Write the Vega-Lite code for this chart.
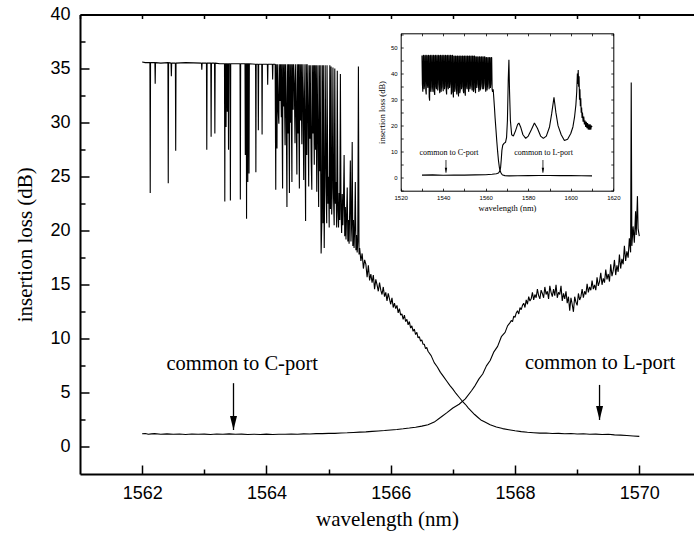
{
"$schema": "https://vega.github.io/schema/vega-lite/v6.json",
"width": 614, "height": 459.5,
"autosize": {"type": "none"},
"padding": {"left": 80, "top": 14.5, "right": 0, "bottom": 60},
"background": "white",
"config": {"view": {"stroke": null}, "axis": {"grid": false, "labelColor": "black", "tickColor": "black", "domainColor": "black", "titleColor": "black", "labelFont": "Liberation Sans", "titleFont": "Liberation Serif", "titleFontWeight": "normal", "minExtent": 0, "labelFlush": false, "labelOverlap": false, "format": "d"}},
"datasets": {
"main_c": [
{"wl":1562.00,"il":1.22},{"wl":1562.05,"il":1.25},{"wl":1562.10,"il":1.18},{"wl":1562.15,"il":1.21},{"wl":1562.20,"il":1.23},{"wl":1562.30,"il":1.18},{"wl":1562.40,"il":1.21},{"wl":1562.50,"il":1.17},{"wl":1562.60,"il":1.20},{"wl":1562.70,"il":1.16},{"wl":1562.80,"il":1.20},{"wl":1562.90,"il":1.17},{"wl":1563.00,"il":1.19},{"wl":1563.10,"il":1.16},{"wl":1563.20,"il":1.20},{"wl":1563.30,"il":1.17},{"wl":1563.40,"il":1.21},{"wl":1563.50,"il":1.17},{"wl":1563.60,"il":1.19},{"wl":1563.70,"il":1.15},{"wl":1563.80,"il":1.18},{"wl":1563.90,"il":1.16},{"wl":1564.00,"il":1.19},{"wl":1564.10,"il":1.16},{"wl":1564.20,"il":1.18},{"wl":1564.30,"il":1.17},{"wl":1564.40,"il":1.20},{"wl":1564.50,"il":1.18},{"wl":1564.60,"il":1.21},{"wl":1564.70,"il":1.20},{"wl":1564.80,"il":1.23},{"wl":1564.90,"il":1.23},{"wl":1565.00,"il":1.26},{"wl":1565.10,"il":1.26},{"wl":1565.20,"il":1.29},{"wl":1565.30,"il":1.31},{"wl":1565.40,"il":1.34},{"wl":1565.50,"il":1.37},{"wl":1565.60,"il":1.40},{"wl":1565.70,"il":1.44},{"wl":1565.80,"il":1.48},{"wl":1565.90,"il":1.52},{"wl":1566.00,"il":1.57},{"wl":1566.10,"il":1.62},{"wl":1566.20,"il":1.68},{"wl":1566.30,"il":1.75},{"wl":1566.40,"il":1.83},{"wl":1566.50,"il":1.93},{"wl":1566.60,"il":2.05},{"wl":1566.70,"il":2.3},{"wl":1566.80,"il":2.72},{"wl":1566.90,"il":3.15},{"wl":1567.00,"il":3.6},{"wl":1567.10,"il":3.95},{"wl":1567.20,"il":4.45},{"wl":1567.30,"il":5.2},{"wl":1567.36,"il":5.7},{"wl":1567.42,"il":6.3},{"wl":1567.48,"il":6.75},{"wl":1567.54,"il":7.5},{"wl":1567.60,"il":8.0},{"wl":1567.66,"il":8.8},{"wl":1567.72,"il":9.3},{"wl":1567.78,"il":10.2},{"wl":1567.84,"il":10.6},{"wl":1567.88,"il":11.2},
{"wl":1567.92,"il":11.5},{"wl":1567.94,"il":11.7},{"wl":1567.96,"il":11.6},{"wl":1567.98,"il":12.1},{"wl":1568.00,"il":12.0},{"wl":1568.02,"il":12.4},{"wl":1568.04,"il":12.6},{"wl":1568.06,"il":12.3},{"wl":1568.08,"il":12.9},{"wl":1568.10,"il":12.7},{"wl":1568.12,"il":13.1},{"wl":1568.14,"il":13.3},{"wl":1568.16,"il":12.9},{"wl":1568.18,"il":13.6},{"wl":1568.20,"il":13.2},{"wl":1568.22,"il":13.9},{"wl":1568.24,"il":13.5},{"wl":1568.26,"il":13.7},{"wl":1568.28,"il":14.3},{"wl":1568.30,"il":13.6},{"wl":1568.32,"il":14.1},{"wl":1568.34,"il":13.8},{"wl":1568.36,"il":14.6},{"wl":1568.38,"il":14.0},{"wl":1568.40,"il":13.7},{"wl":1568.42,"il":14.5},{"wl":1568.44,"il":14.2},{"wl":1568.46,"il":13.8},{"wl":1568.48,"il":14.8},{"wl":1568.50,"il":14.1},{"wl":1568.52,"il":14.4},{"wl":1568.54,"il":13.7},{"wl":1568.56,"il":14.9},{"wl":1568.58,"il":14.3},{"wl":1568.60,"il":13.9},{"wl":1568.62,"il":14.6},{"wl":1568.64,"il":14.0},{"wl":1568.66,"il":15.0},{"wl":1568.68,"il":13.8},{"wl":1568.70,"il":14.3},{"wl":1568.72,"il":14.1},{"wl":1568.74,"il":14.9},{"wl":1568.76,"il":13.5},{"wl":1568.78,"il":14.2},{"wl":1568.80,"il":13.7},{"wl":1568.82,"il":14.4},{"wl":1568.84,"il":13.3},{"wl":1568.86,"il":13.9},{"wl":1568.88,"il":12.6},{"wl":1568.90,"il":13.8},{"wl":1568.92,"il":13.2},{"wl":1568.94,"il":12.5},{"wl":1568.96,"il":13.9},{"wl":1568.98,"il":13.4},{"wl":1569.00,"il":13.1},{"wl":1569.02,"il":14.2},{"wl":1569.04,"il":13.6},{"wl":1569.06,"il":13.9},{"wl":1569.08,"il":14.6},{"wl":1569.10,"il":13.8},{"wl":1569.12,"il":14.4},{"wl":1569.14,"il":14.1},{"wl":1569.16,"il":15.1},{"wl":1569.18,"il":14.3},{"wl":1569.20,"il":14.8},{"wl":1569.22,"il":14.5},{"wl":1569.24,"il":15.4},{"wl":1569.26,"il":14.6},{"wl":1569.28,"il":15.0},{"wl":1569.30,"il":14.5},{"wl":1569.32,"il":15.7},{"wl":1569.34,"il":14.9},{"wl":1569.36,"il":15.3},{"wl":1569.38,"il":16.1},{"wl":1569.40,"il":15.0},{"wl":1569.42,"il":15.6},{"wl":1569.44,"il":15.2},{"wl":1569.46,"il":16.4},{"wl":1569.48,"il":15.5},{"wl":1569.50,"il":16.0},{"wl":1569.52,"il":15.3},{"wl":1569.54,"il":16.9},{"wl":1569.56,"il":15.8},{"wl":1569.58,"il":16.3},{"wl":1569.60,"il":17.3},{"wl":1569.62,"il":15.9},{"wl":1569.64,"il":16.8},{"wl":1569.66,"il":16.2},{"wl":1569.68,"il":17.8},{"wl":1569.70,"il":16.5},{"wl":1569.72,"il":17.4},{"wl":1569.74,"il":16.9},{"wl":1569.76,"il":18.6},{"wl":1569.78,"il":17.2},{"wl":1569.80,"il":18.1},{"wl":1569.82,"il":17.5},{"wl":1569.84,"il":19.3},{"wl":1569.86,"il":18.0},{"wl":1569.87,"il":33.7},{"wl":1569.88,"il":18.6},{"wl":1569.90,"il":20.4},{"wl":1569.92,"il":18.9},{"wl":1569.94,"il":21.8},{"wl":1569.95,"il":19.6},{"wl":1569.97,"il":23.2},{"wl":1569.98,"il":20.2},{"wl":1570.00,"il":19.5}
],
"main_l": [
{"wl":1562.000,"il":35.6},{"wl":1562.050,"il":35.55},{"wl":1562.125,"il":35.55},{"wl":1562.130,"il":23.5},{"wl":1562.135,"il":35.55},{"wl":1562.205,"il":35.55},{"wl":1562.210,"il":33.6},{"wl":1562.215,"il":35.55},{"wl":1562.300,"il":35.5},{"wl":1562.415,"il":35.55},{"wl":1562.420,"il":24.4},{"wl":1562.425,"il":35.55},{"wl":1562.465,"il":35.5},{"wl":1562.470,"il":34.3},{"wl":1562.475,"il":35.5},{"wl":1562.535,"il":35.5},{"wl":1562.540,"il":27.4},{"wl":1562.545,"il":35.5},{"wl":1562.700,"il":35.55},{"wl":1562.955,"il":35.5},{"wl":1562.960,"il":34.9},{"wl":1562.965,"il":35.5},{"wl":1563.035,"il":35.5},{"wl":1563.040,"il":27.5},{"wl":1563.045,"il":35.5},{"wl":1563.105,"il":35.5},{"wl":1563.110,"il":28.7},{"wl":1563.115,"il":35.5},{"wl":1563.165,"il":35.5},{"wl":1563.170,"il":29.0},{"wl":1563.175,"il":35.5},{"wl":1563.250,"il":35.45},{"wl":1563.325,"il":35.45},{"wl":1563.330,"il":22.7},{"wl":1563.335,"il":35.45},{"wl":1563.345,"il":35.45},{"wl":1563.350,"il":29.6},{"wl":1563.355,"il":35.45},{"wl":1563.365,"il":35.45},{"wl":1563.370,"il":31.0},{"wl":1563.375,"il":35.45},{"wl":1563.385,"il":35.45},{"wl":1563.390,"il":27.5},{"wl":1563.395,"il":35.45},{"wl":1563.415,"il":35.45},{"wl":1563.420,"il":22.8},{"wl":1563.425,"il":35.45},{"wl":1563.500,"il":35.45},{"wl":1563.575,"il":35.45},{"wl":1563.580,"il":22.9},{"wl":1563.585,"il":35.45},{"wl":1563.655,"il":35.45},{"wl":1563.660,"il":27.0},{"wl":1563.665,"il":35.45},{"wl":1563.675,"il":35.45},{"wl":1563.680,"il":21.1},{"wl":1563.685,"il":35.45},{"wl":1563.695,"il":35.45},{"wl":1563.700,"il":24.5},{"wl":1563.705,"il":35.45},{"wl":1563.715,"il":35.45},{"wl":1563.720,"il":25.3},{"wl":1563.725,"il":35.45},{"wl":1563.825,"il":35.4},{"wl":1563.830,"il":25.4},{"wl":1563.835,"il":35.4},{"wl":1563.865,"il":35.4},{"wl":1563.870,"il":29.3},{"wl":1563.875,"il":35.4},{"wl":1563.925,"il":35.4},{"wl":1563.930,"il":28.9},{"wl":1563.935,"il":35.4},{"wl":1564.015,"il":35.4},{"wl":1564.020,"il":33.5},{"wl":1564.025,"il":35.4},{"wl":1564.095,"il":35.4},{"wl":1564.100,"il":34.0},{"wl":1564.105,"il":35.4},
{"wl":1564.14,"il":35.4},{"wl":1564.15,"il":23.8},{"wl":1564.155,"il":35.4},{"wl":1564.17,"il":27.6},{"wl":1564.175,"il":35.4},{"wl":1564.19,"il":31.0},{"wl":1564.20,"il":29.9},{"wl":1564.205,"il":35.4},{"wl":1564.22,"il":32.0},{"wl":1564.225,"il":35.4},{"wl":1564.24,"il":30.5},{"wl":1564.245,"il":35.4},{"wl":1564.26,"il":23.9},{"wl":1564.265,"il":35.4},{"wl":1564.28,"il":31.5},{"wl":1564.285,"il":35.4},{"wl":1564.30,"il":27.9},{"wl":1564.305,"il":35.4},{"wl":1564.32,"il":30.4},{"wl":1564.33,"il":22.2},{"wl":1564.335,"il":35.4},{"wl":1564.35,"il":29.0},{"wl":1564.355,"il":35.4},{"wl":1564.37,"il":23.5},{"wl":1564.375,"il":35.4},{"wl":1564.39,"il":30.0},{"wl":1564.395,"il":35.4},{"wl":1564.41,"il":24.5},{"wl":1564.415,"il":35.4},{"wl":1564.43,"il":31.2},{"wl":1564.435,"il":35.4},{"wl":1564.45,"il":33.0},{"wl":1564.46,"il":28.1},{"wl":1564.465,"il":35.4},{"wl":1564.48,"il":30.5},{"wl":1564.49,"il":25.2},{"wl":1564.495,"il":35.4},{"wl":1564.51,"il":29.0},{"wl":1564.515,"il":35.4},{"wl":1564.53,"il":23.9},{"wl":1564.535,"il":35.4},{"wl":1564.55,"il":30.2},{"wl":1564.555,"il":35.4},{"wl":1564.57,"il":28.0},{"wl":1564.575,"il":35.4},{"wl":1564.59,"il":31.0},{"wl":1564.60,"il":24.7},{"wl":1564.605,"il":35.4},{"wl":1564.62,"il":29.5},{"wl":1564.63,"il":20.9},{"wl":1564.635,"il":35.4},{"wl":1564.65,"il":27.0},{"wl":1564.655,"il":35.4},{"wl":1564.67,"il":30.0},{"wl":1564.68,"il":24.1},{"wl":1564.685,"il":35.3},{"wl":1564.70,"il":28.5},{"wl":1564.705,"il":35.3},{"wl":1564.72,"il":26.5},{"wl":1564.73,"il":23.8},{"wl":1564.735,"il":35.3},{"wl":1564.75,"il":29.0},{"wl":1564.755,"il":35.3},{"wl":1564.77,"il":26.1},{"wl":1564.775,"il":35.3},{"wl":1564.79,"il":27.5},{"wl":1564.795,"il":35.3},{"wl":1564.81,"il":23.6},{"wl":1564.815,"il":35.3},{"wl":1564.83,"il":28.0},{"wl":1564.84,"il":22.2},{"wl":1564.845,"il":35.3},{"wl":1564.86,"il":25.5},{"wl":1564.865,"il":35.3},{"wl":1564.88,"il":17.9},{"wl":1564.89,"il":20.5},{"wl":1564.895,"il":35.3},{"wl":1564.91,"il":20.7},{"wl":1564.915,"il":35.3},{"wl":1564.93,"il":18.4},{"wl":1564.94,"il":26.1},{"wl":1564.945,"il":35.3},{"wl":1564.96,"il":24.0},{"wl":1564.97,"il":20.7},{"wl":1564.975,"il":35.3},{"wl":1564.99,"il":22.5},{"wl":1565.00,"il":25.0},{"wl":1565.01,"il":20.3},{"wl":1565.02,"il":35.3},
{"wl":1565.03,"il":22.0},{"wl":1565.04,"il":35.2},{"wl":1565.05,"il":21.5},{"wl":1565.06,"il":24.0},{"wl":1565.07,"il":35.1},{"wl":1565.08,"il":23.0},{"wl":1565.09,"il":20.5},{"wl":1565.10,"il":35.0},{"wl":1565.11,"il":22.5},{"wl":1565.12,"il":24.5},{"wl":1565.13,"il":20.3},{"wl":1565.14,"il":34.8},{"wl":1565.15,"il":21.8},{"wl":1565.16,"il":20.3},{"wl":1565.17,"il":23.5},{"wl":1565.18,"il":21.0},{"wl":1565.19,"il":34.5},{"wl":1565.20,"il":22.0},{"wl":1565.21,"il":19.8},{"wl":1565.22,"il":23.4},{"wl":1565.23,"il":20.5},{"wl":1565.24,"il":22.8},{"wl":1565.25,"il":27.0},{"wl":1565.26,"il":19.5},{"wl":1565.27,"il":22.2},{"wl":1565.28,"il":19.2},{"wl":1565.29,"il":21.5},{"wl":1565.30,"il":24.0},{"wl":1565.31,"il":19.0},{"wl":1565.32,"il":21.0},{"wl":1565.33,"il":18.8},{"wl":1565.34,"il":22.0},{"wl":1565.35,"il":26.5},{"wl":1565.36,"il":19.0},{"wl":1565.37,"il":20.5},{"wl":1565.38,"il":28.2},{"wl":1565.39,"il":18.6},{"wl":1565.40,"il":21.0},{"wl":1565.41,"il":18.4},{"wl":1565.42,"il":20.2},{"wl":1565.43,"il":24.5},{"wl":1565.44,"il":18.2},{"wl":1565.45,"il":19.6},{"wl":1565.46,"il":18.0},{"wl":1565.47,"il":19.0},{"wl":1565.48,"il":35.2},{"wl":1565.49,"il":17.8},{"wl":1565.50,"il":18.4},
{"wl":1565.52,"il":17.2},{"wl":1565.54,"il":17.9},{"wl":1565.56,"il":16.5},{"wl":1565.58,"il":17.3},{"wl":1565.60,"il":16.9},{"wl":1565.62,"il":15.7},{"wl":1565.64,"il":16.8},{"wl":1565.66,"il":15.4},{"wl":1565.68,"il":16.0},{"wl":1565.70,"il":15.2},{"wl":1565.72,"il":15.9},{"wl":1565.74,"il":14.6},{"wl":1565.76,"il":15.5},{"wl":1565.78,"il":15.0},{"wl":1565.80,"il":14.4},{"wl":1565.82,"il":15.2},{"wl":1565.84,"il":14.5},{"wl":1565.86,"il":14.1},{"wl":1565.88,"il":14.8},{"wl":1565.90,"il":13.9},{"wl":1565.92,"il":14.3},{"wl":1565.94,"il":13.5},{"wl":1565.96,"il":14.2},{"wl":1565.98,"il":13.7},{"wl":1566.00,"il":13.2},{"wl":1566.02,"il":13.8},{"wl":1566.04,"il":12.9},{"wl":1566.06,"il":13.3},{"wl":1566.08,"il":12.8},{"wl":1566.10,"il":13.1},{"wl":1566.12,"il":12.4},{"wl":1566.14,"il":12.8},{"wl":1566.16,"il":12.2},{"wl":1566.18,"il":12.3},{"wl":1566.20,"il":11.8},{"wl":1566.22,"il":12.2},{"wl":1566.24,"il":11.6},{"wl":1566.26,"il":11.8},{"wl":1566.28,"il":11.3},{"wl":1566.30,"il":11.6},{"wl":1566.32,"il":11.0},{"wl":1566.34,"il":11.2},{"wl":1566.36,"il":10.7},{"wl":1566.38,"il":10.9},{"wl":1566.40,"il":10.4},{"wl":1566.42,"il":10.6},{"wl":1566.44,"il":10.1},{"wl":1566.46,"il":10.2},{"wl":1566.48,"il":9.8},{"wl":1566.50,"il":9.9},{"wl":1566.52,"il":9.5},{"wl":1566.54,"il":9.5},{"wl":1566.56,"il":9.1},{"wl":1566.58,"il":9.2},{"wl":1566.60,"il":8.85},{"wl":1566.65,"il":8.45},{"wl":1566.70,"il":7.8},{"wl":1566.75,"il":7.4},{"wl":1566.80,"il":6.9},{"wl":1566.85,"il":6.5},{"wl":1566.90,"il":6.1},{"wl":1566.95,"il":5.7},{"wl":1567.00,"il":5.35},{"wl":1567.05,"il":4.95},{"wl":1567.10,"il":4.6},{"wl":1567.15,"il":4.25},{"wl":1567.20,"il":3.95},{"wl":1567.25,"il":3.6},{"wl":1567.30,"il":3.3},{"wl":1567.35,"il":3.0},{"wl":1567.40,"il":2.75},{"wl":1567.45,"il":2.5},{"wl":1567.50,"il":2.35},{"wl":1567.60,"il":2.05},{"wl":1567.70,"il":1.85},{"wl":1567.80,"il":1.7},{"wl":1567.90,"il":1.6},{"wl":1568.00,"il":1.5},{"wl":1568.10,"il":1.42},{"wl":1568.20,"il":1.36},{"wl":1568.30,"il":1.32},{"wl":1568.40,"il":1.28},{"wl":1568.50,"il":1.29},{"wl":1568.60,"il":1.25},{"wl":1568.70,"il":1.26},{"wl":1568.80,"il":1.22},{"wl":1568.90,"il":1.24},{"wl":1569.00,"il":1.2},{"wl":1569.10,"il":1.22},{"wl":1569.20,"il":1.18},{"wl":1569.30,"il":1.19},{"wl":1569.40,"il":1.15},{"wl":1569.50,"il":1.17},{"wl":1569.60,"il":1.12},{"wl":1569.70,"il":1.1},{"wl":1569.80,"il":1.06},{"wl":1569.90,"il":1.02},{"wl":1570.00,"il":0.98}
],
"main_text": [
{"wl":1563.61,"il":7.1,"label":"common to C-port"},
{"wl":1569.37,"il":7.2,"label":"common to L-port"}
],
"main_arrows": [
{"wl":1563.47,"top":5.9,"tip":1.57},
{"wl":1569.36,"top":5.74,"tip":2.5}
],
"inset_c": [
{"wl":1530,"il":1.0},{"wl":1535,"il":1.1},{"wl":1540,"il":0.95},{"wl":1545,"il":1.05},{"wl":1550,"il":1.0},{"wl":1555,"il":1.1},{"wl":1560,"il":1.15},{"wl":1563,"il":1.3},{"wl":1565,"il":1.5},{"wl":1566,"il":1.8},{"wl":1566.6,"il":2.5},{"wl":1567.0,"il":4.0},{"wl":1567.3,"il":7.0},{"wl":1567.6,"il":10.5},{"wl":1568.0,"il":12.5},{"wl":1568.6,"il":13.2},{"wl":1569.3,"il":13.6},{"wl":1569.8,"il":15.5},{"wl":1570.2,"il":22},{"wl":1570.6,"il":38},{"wl":1570.9,"il":45.3},{"wl":1571.2,"il":33},{"wl":1571.6,"il":22},{"wl":1572.2,"il":16.5},{"wl":1573.0,"il":16.0},{"wl":1574.0,"il":18.0},{"wl":1575.0,"il":20.5},{"wl":1575.6,"il":21.0},{"wl":1576.4,"il":19.5},{"wl":1577.5,"il":16.5},{"wl":1578.8,"il":15.1},{"wl":1580.0,"il":16.0},{"wl":1581.5,"il":18.5},{"wl":1582.9,"il":21.0},{"wl":1584.3,"il":19.0},{"wl":1585.8,"il":16.0},{"wl":1587.1,"il":15.1},{"wl":1588.5,"il":16.0},{"wl":1590.0,"il":19.5},{"wl":1591.0,"il":24.5},{"wl":1592.1,"il":30.9},{"wl":1593.0,"il":25.0},{"wl":1594.0,"il":20.0},{"wl":1595.5,"il":16.5},{"wl":1597.0,"il":14.3},{"wl":1598.5,"il":14.8},{"wl":1600.0,"il":17.0},{"wl":1601.0,"il":19.5},{"wl":1601.8,"il":23.5},{"wl":1602.4,"il":28.0},{"wl":1602.8,"il":33.0},{"wl":1603.1,"il":40.0},{"wl":1603.3,"il":36.0},{"wl":1603.5,"il":41.4},{"wl":1603.7,"il":35.0},{"wl":1603.9,"il":39.0},{"wl":1604.1,"il":30.0},{"wl":1604.3,"il":34.0},{"wl":1604.5,"il":27.5},{"wl":1604.7,"il":30.5},{"wl":1604.9,"il":25.0},{"wl":1605.1,"il":27.0},{"wl":1605.3,"il":23.0},{"wl":1605.5,"il":25.0},{"wl":1605.8,"il":21.5},{"wl":1606.1,"il":23.5},{"wl":1606.4,"il":20.5},{"wl":1606.7,"il":22.0},{"wl":1607.0,"il":19.5},{"wl":1607.3,"il":21.5},{"wl":1607.6,"il":19.0},{"wl":1607.9,"il":21.0},{"wl":1608.2,"il":18.5},{"wl":1608.5,"il":20.5},{"wl":1608.8,"il":18.5},{"wl":1609.1,"il":20.5},{"wl":1609.4,"il":18.5},{"wl":1609.7,"il":20.0},{"wl":1610.0,"il":19.5}
],
"inset_l": [
{"wl":1530.0,"il":47.0},{"wl":1530.2,"il":36.0},{"wl":1530.4,"il":33.0},{"wl":1530.6,"il":47.0},{"wl":1530.8,"il":47.0},{"wl":1531.0,"il":34.0},{"wl":1531.2,"il":35.5},{"wl":1531.4,"il":47.0},{"wl":1531.6,"il":47.0},{"wl":1531.8,"il":33.5},{"wl":1532.0,"il":32.0},{"wl":1532.2,"il":47.0},{"wl":1532.4,"il":47.0},{"wl":1532.6,"il":35.5},{"wl":1532.8,"il":34.5},{"wl":1533.0,"il":47.0},{"wl":1533.2,"il":47.0},{"wl":1533.4,"il":31.0},{"wl":1533.6,"il":29.6},{"wl":1533.8,"il":47.0},{"wl":1534.0,"il":47.0},{"wl":1534.2,"il":33.0},{"wl":1534.4,"il":35.0},{"wl":1534.6,"il":47.0},{"wl":1534.8,"il":47.0},{"wl":1535.0,"il":34.5},{"wl":1535.2,"il":33.0},{"wl":1535.4,"il":47.0},{"wl":1535.6,"il":47.0},{"wl":1535.8,"il":33.0},{"wl":1536.0,"il":31.8},{"wl":1536.2,"il":47.0},{"wl":1536.4,"il":47.0},{"wl":1536.6,"il":35.0},{"wl":1536.8,"il":34.0},{"wl":1537.0,"il":47.0},{"wl":1537.2,"il":47.0},{"wl":1537.4,"il":33.5},{"wl":1537.6,"il":36.0},{"wl":1537.8,"il":47.0},{"wl":1538.0,"il":47.0},{"wl":1538.2,"il":34.0},{"wl":1538.4,"il":32.5},{"wl":1538.6,"il":47.0},{"wl":1538.8,"il":47.0},{"wl":1539.0,"il":33.0},{"wl":1539.2,"il":34.8},{"wl":1539.4,"il":47.0},{"wl":1539.6,"il":47.0},{"wl":1539.8,"il":35.0},{"wl":1540.0,"il":33.2},{"wl":1540.2,"il":47.0},{"wl":1540.4,"il":47.0},{"wl":1540.6,"il":34.0},{"wl":1540.8,"il":35.5},{"wl":1541.0,"il":47.0},{"wl":1541.2,"il":47.0},{"wl":1541.4,"il":33.5},{"wl":1541.6,"il":32.0},{"wl":1541.8,"il":47.0},{"wl":1542.0,"il":47.0},{"wl":1542.2,"il":35.0},{"wl":1542.4,"il":34.0},{"wl":1542.6,"il":47.0},{"wl":1542.8,"il":47.0},{"wl":1543.0,"il":34.5},{"wl":1543.2,"il":36.2},{"wl":1543.4,"il":47.0},{"wl":1543.6,"il":47.0},{"wl":1543.8,"il":32.0},{"wl":1544.0,"il":33.0},{"wl":1544.2,"il":47.0},{"wl":1544.4,"il":47.0},{"wl":1544.6,"il":33.0},{"wl":1544.8,"il":30.8},{"wl":1545.0,"il":46.8},{"wl":1545.2,"il":46.8},{"wl":1545.4,"il":33.0},{"wl":1545.6,"il":34.5},{"wl":1545.8,"il":46.8},{"wl":1546.0,"il":46.8},{"wl":1546.2,"il":34.0},{"wl":1546.4,"il":32.0},{"wl":1546.6,"il":46.8},{"wl":1546.8,"il":46.8},{"wl":1547.0,"il":33.5},{"wl":1547.2,"il":31.2},{"wl":1547.4,"il":46.8},{"wl":1547.6,"il":46.8},{"wl":1547.8,"il":32.5},{"wl":1548.0,"il":33.5},{"wl":1548.2,"il":46.8},{"wl":1548.4,"il":46.8},{"wl":1548.6,"il":34.0},{"wl":1548.8,"il":35.0},{"wl":1549.0,"il":46.8},{"wl":1549.2,"il":46.8},{"wl":1549.4,"il":33.5},{"wl":1549.6,"il":32.5},{"wl":1549.8,"il":46.8},{"wl":1550.0,"il":46.8},{"wl":1550.2,"il":33.0},{"wl":1550.4,"il":31.5},{"wl":1550.6,"il":46.8},{"wl":1550.8,"il":46.8},{"wl":1551.0,"il":35.0},{"wl":1551.2,"il":34.0},{"wl":1551.4,"il":46.8},{"wl":1551.6,"il":46.8},{"wl":1551.8,"il":34.5},{"wl":1552.0,"il":33.0},{"wl":1552.2,"il":46.8},{"wl":1552.4,"il":46.8},{"wl":1552.6,"il":34.0},{"wl":1552.8,"il":35.5},{"wl":1553.0,"il":46.8},{"wl":1553.2,"il":46.8},{"wl":1553.4,"il":35.0},{"wl":1553.6,"il":33.5},{"wl":1553.8,"il":46.8},{"wl":1554.0,"il":46.8},{"wl":1554.2,"il":33.0},{"wl":1554.4,"il":34.5},{"wl":1554.6,"il":46.8},{"wl":1554.8,"il":46.8},{"wl":1555.0,"il":34.0},{"wl":1555.2,"il":32.5},{"wl":1555.4,"il":46.5},{"wl":1555.6,"il":46.5},{"wl":1555.8,"il":34.5},{"wl":1556.0,"il":36.0},{"wl":1556.2,"il":46.5},{"wl":1556.4,"il":46.5},{"wl":1556.6,"il":35.0},{"wl":1556.8,"il":33.0},{"wl":1557.0,"il":46.5},{"wl":1557.2,"il":46.5},{"wl":1557.4,"il":33.5},{"wl":1557.6,"il":35.0},{"wl":1557.8,"il":46.5},{"wl":1558.0,"il":46.5},{"wl":1558.2,"il":36.0},{"wl":1558.4,"il":34.0},{"wl":1558.6,"il":46.5},{"wl":1558.8,"il":46.5},{"wl":1559.0,"il":34.0},{"wl":1559.2,"il":36.5},{"wl":1559.4,"il":46.5},{"wl":1559.6,"il":46.5},{"wl":1559.8,"il":35.5},{"wl":1560.0,"il":33.0},{"wl":1560.2,"il":46.2},{"wl":1560.4,"il":46.2},{"wl":1560.6,"il":33.5},{"wl":1560.8,"il":35.0},{"wl":1561.0,"il":46.2},{"wl":1561.2,"il":46.2},{"wl":1561.4,"il":36.0},{"wl":1561.6,"il":34.0},{"wl":1561.8,"il":46.2},{"wl":1562.0,"il":46.2},{"wl":1562.2,"il":34.5},{"wl":1562.4,"il":36.0},{"wl":1562.6,"il":46.2},{"wl":1562.8,"il":46.2},{"wl":1563.0,"il":34.0},{"wl":1563.2,"il":33.0},
{"wl":1563.5,"il":34.0},{"wl":1563.8,"il":30.5},{"wl":1564.1,"il":27.0},{"wl":1564.4,"il":23.0},{"wl":1564.8,"il":18.5},{"wl":1565.2,"il":14.0},{"wl":1565.6,"il":10.0},{"wl":1566.0,"il":6.5},{"wl":1566.4,"il":4.0},{"wl":1566.8,"il":2.6},{"wl":1567.2,"il":1.8},{"wl":1567.6,"il":1.3},{"wl":1568.0,"il":1.0},{"wl":1569,"il":0.8},{"wl":1571,"il":0.7},{"wl":1575,"il":0.75},{"wl":1580,"il":0.8},{"wl":1585,"il":0.85},{"wl":1590,"il":0.85},{"wl":1595,"il":0.8},{"wl":1600,"il":0.8},{"wl":1605,"il":0.75},{"wl":1610,"il":0.7}
],
"inset_text": [
{"wl":1542.7,"il":8.7,"label":"common to C-port"},
{"wl":1587.2,"il":8.7,"label":"common to L-port"}
],
"inset_arrows": [
{"wl":1541.3,"top":6.8,"tip":1.9},
{"wl":1586.9,"top":6.8,"tip":1.9}
]
},
"layer": [
{
"data": {"name": "main_c"},
"mark": {"type": "line", "color": "black", "strokeWidth": 1.1, "strokeJoin": "bevel"},
"encoding": {
"x": {"field": "wl", "type": "quantitative", "scale": {"domain": [1561, 1570.88], "nice": false, "zero": false},
"axis": {"orient": "bottom", "values": [1562, 1564, 1566, 1568, 1570], "tickSize": -9, "tickWidth": 1.5, "domainWidth": 2, "labelPadding": 19, "labelFontSize": 18, "title": "wavelength (nm)", "titleFontSize": 21, "titlePadding": 6}},
"y": {"field": "il", "type": "quantitative", "scale": {"domain": [-2.5, 40], "nice": false, "zero": false},
"axis": {"orient": "left", "values": [0, 5, 10, 15, 20, 25, 30, 35, 40], "tickSize": -9, "tickWidth": 1.5, "domainWidth": 2, "labelPadding": 19, "labelFontSize": 18, "title": "insertion loss (dB)", "titleFontSize": 21, "titlePadding": 14}}
}
},
{
"data": {"name": "main_l"},
"mark": {"type": "line", "color": "black", "strokeWidth": 1.1, "strokeJoin": "bevel"},
"encoding": {
"x": {"field": "wl", "type": "quantitative", "scale": {"domain": [1561, 1570.88], "nice": false, "zero": false},
"axis": {"orient": "bottom", "values": [1563, 1565, 1567, 1569], "tickSize": -5, "tickWidth": 1.5, "domain": false, "labels": false, "title": null}},
"y": {"field": "il", "type": "quantitative", "scale": {"domain": [-2.5, 40], "nice": false, "zero": false},
"axis": {"orient": "left", "values": [2.5, 7.5, 12.5, 17.5, 22.5, 27.5, 32.5, 37.5], "tickSize": -5, "tickWidth": 1.5, "domain": false, "labels": false, "title": null}}
}
},
{
"data": {"name": "main_text"},
"mark": {"type": "text", "font": "Liberation Serif", "fontSize": 20.5, "align": "center", "baseline": "alphabetic", "fill": "black"},
"encoding": {
"x": {"field": "wl", "type": "quantitative", "scale": {"domain": [1561, 1570.88], "nice": false, "zero": false},
"axis": {"orient": "top", "values": [1561, 1562, 1563, 1564, 1565, 1566, 1567, 1568, 1569, 1570], "tickSize": -4, "tickWidth": 1.5, "domainWidth": 2, "labels": false, "title": null}},
"y": {"field": "il", "type": "quantitative", "scale": {"domain": [-2.5, 40], "nice": false, "zero": false}, "axis": null},
"text": {"field": "label"}
}
},
{
"data": {"name": "main_arrows"},
"mark": {"type": "rule", "color": "black", "strokeWidth": 1.3},
"encoding": {
"x": {"field": "wl", "type": "quantitative", "scale": {"domain": [1561, 1570.88], "nice": false, "zero": false}, "axis": null},
"y": {"field": "top", "type": "quantitative", "scale": {"domain": [-2.5, 40], "nice": false, "zero": false}, "axis": null},
"y2": {"field": "tip"}
}
},
{
"data": {"name": "main_arrows"},
"mark": {"type": "point", "shape": "M-1,-4L1,-4L0,0Z", "filled": true, "color": "black", "size": 49, "opacity": 1},
"encoding": {
"x": {"field": "wl", "type": "quantitative", "scale": {"domain": [1561, 1570.88], "nice": false, "zero": false}, "axis": null},
"y": {"field": "tip", "type": "quantitative", "scale": {"domain": [-2.5, 40], "nice": false, "zero": false}, "axis": null}
}
},
{
"data": {"name": "inset_c"},
"mark": {"type": "line", "color": "black", "strokeWidth": 1.1, "strokeJoin": "bevel"},
"encoding": {
"x": {"field": "wl", "type": "quantitative", "scale": {"domain": [1520, 1620], "range": [320.7, 533.3], "nice": false, "zero": false},
"axis": {"orient": "bottom", "offset": -283.3, "values": [1520, 1530, 1540, 1550, 1560, 1570, 1580, 1590, 1600, 1610, 1620], "labelExpr": "datum.value % 20 == 0 ? datum.label : ''", "tickSize": -2.5, "tickWidth": 0.8, "domainWidth": 1, "labelPadding": 6, "labelFontSize": 6, "title": "wavelength (nm)", "titleFontSize": 8.5, "titlePadding": 3}},
"y": {"field": "il", "type": "quantitative", "scale": {"domain": [-5, 55.5], "range": [176.2, 18.8], "nice": false, "zero": false},
"axis": {"orient": "left", "offset": -320.7, "values": [-5, 0, 5, 10, 15, 20, 25, 30, 35, 40, 45, 50, 55], "labelExpr": "datum.value % 10 == 0 ? datum.label : ''", "tickSize": -2.5, "tickWidth": 0.8, "domainWidth": 1, "labelPadding": 6, "labelFontSize": 6, "title": "insertion loss (dB)", "titleFontSize": 8.5, "titlePadding": 4}}
}
},
{
"data": {"name": "inset_l"},
"mark": {"type": "line", "color": "black", "strokeWidth": 1.1, "strokeJoin": "bevel"},
"encoding": {
"x": {"field": "wl", "type": "quantitative", "scale": {"domain": [1520, 1620], "range": [320.7, 533.3], "nice": false, "zero": false},
"axis": {"orient": "top", "offset": -18.8, "values": [1520, 1530, 1540, 1550, 1560, 1570, 1580, 1590, 1600, 1610, 1620], "tickSize": -2.5, "tickWidth": 0.8, "domainWidth": 1, "labels": false, "title": null}},
"y": {"field": "il", "type": "quantitative", "scale": {"domain": [-5, 55.5], "range": [176.2, 18.8], "nice": false, "zero": false},
"axis": {"orient": "right", "offset": -80.7, "values": [-5, 0, 5, 10, 15, 20, 25, 30, 35, 40, 45, 50, 55], "tickSize": -2.5, "tickWidth": 0.8, "domainWidth": 1, "labels": false, "title": null}}
}
},
{
"data": {"name": "inset_text"},
"mark": {"type": "text", "font": "Liberation Serif", "fontSize": 8, "align": "center", "baseline": "alphabetic", "fill": "black"},
"encoding": {
"x": {"field": "wl", "type": "quantitative", "scale": {"domain": [1520, 1620], "range": [320.7, 533.3], "nice": false, "zero": false}, "axis": null},
"y": {"field": "il", "type": "quantitative", "scale": {"domain": [-5, 55.5], "range": [176.2, 18.8], "nice": false, "zero": false}, "axis": null},
"text": {"field": "label"}
}
},
{
"data": {"name": "inset_arrows"},
"mark": {"type": "rule", "color": "black", "strokeWidth": 0.8},
"encoding": {
"x": {"field": "wl", "type": "quantitative", "scale": {"domain": [1520, 1620], "range": [320.7, 533.3], "nice": false, "zero": false}, "axis": null},
"y": {"field": "top", "type": "quantitative", "scale": {"domain": [-5, 55.5], "range": [176.2, 18.8], "nice": false, "zero": false}, "axis": null},
"y2": {"field": "tip"}
}
},
{
"data": {"name": "inset_arrows"},
"mark": {"type": "point", "shape": "M-1,-4L1,-4L0,0Z", "filled": true, "color": "black", "size": 6, "opacity": 1},
"encoding": {
"x": {"field": "wl", "type": "quantitative", "scale": {"domain": [1520, 1620], "range": [320.7, 533.3], "nice": false, "zero": false}, "axis": null},
"y": {"field": "tip", "type": "quantitative", "scale": {"domain": [-5, 55.5], "range": [176.2, 18.8], "nice": false, "zero": false}, "axis": null}
}
}
],
"resolve": {"scale": {"x": "independent", "y": "independent"}, "axis": {"x": "independent", "y": "independent"}}
}
